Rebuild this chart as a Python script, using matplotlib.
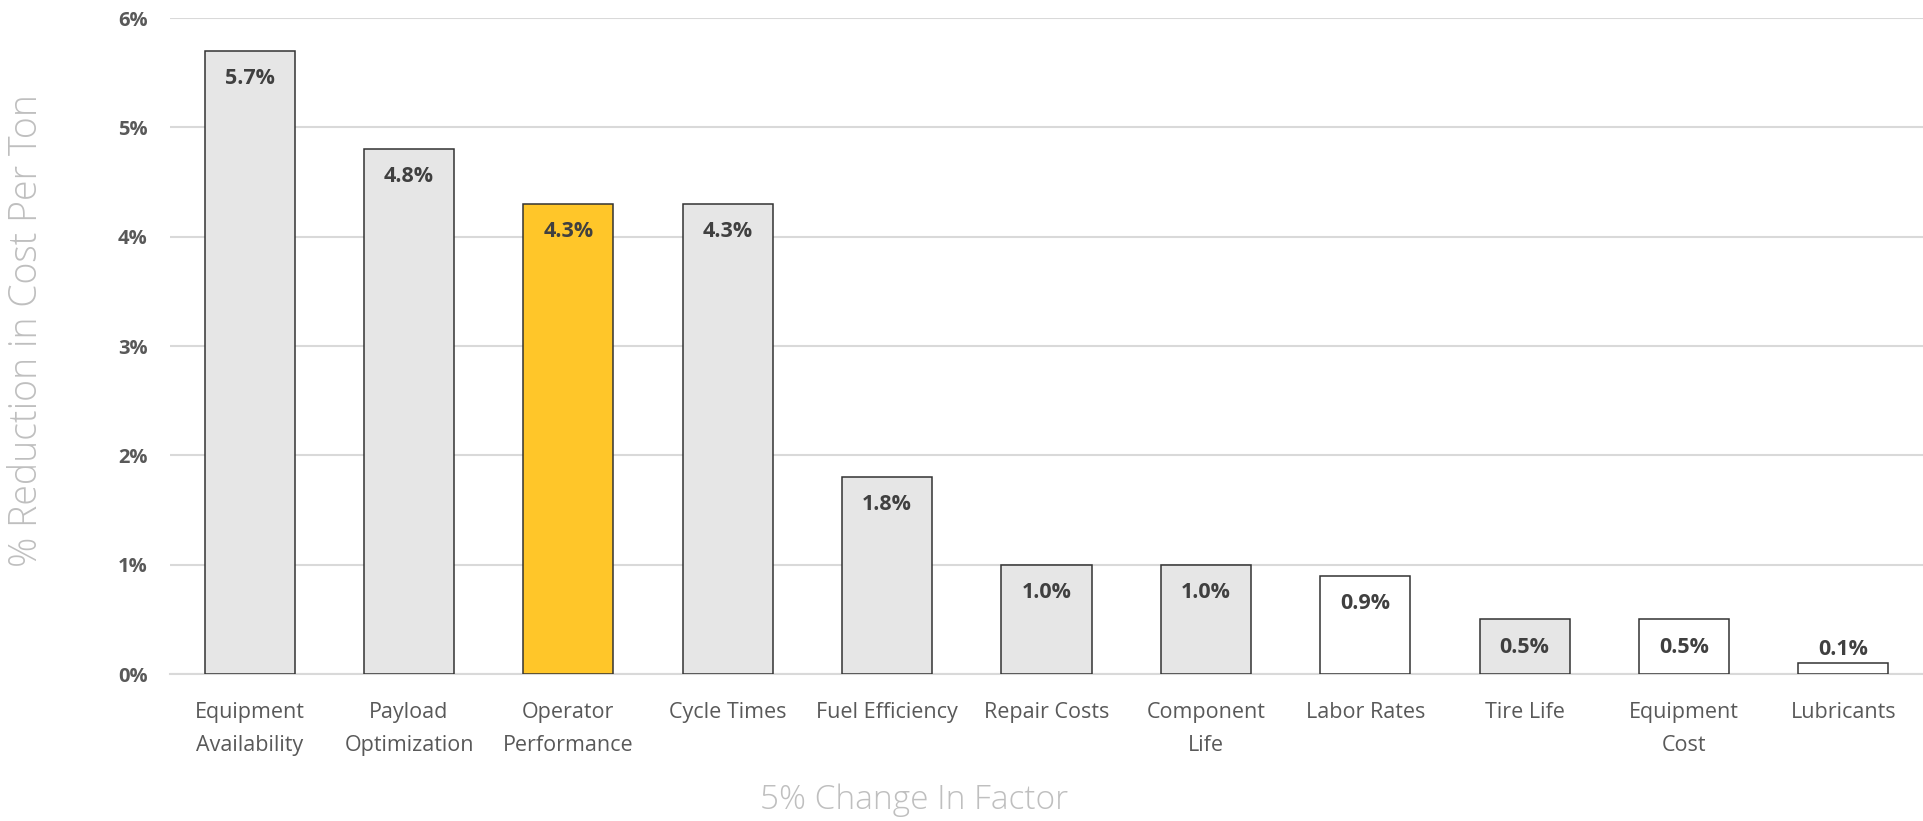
import matplotlib
matplotlib.use('Agg')
import matplotlib.pyplot as plt
from matplotlib.ticker import FuncFormatter

plt.rcParams['font.family'] = ['Open Sans', 'DejaVu Sans']

# data
factors = ['Equipment\nAvailability', 'Payload\nOptimization', 'Operator\nPerformance',
           'Cycle Times', 'Fuel Efficiency', 'Repair Costs', 'Component\nLife',
           'Labor Rates', 'Tire Life', 'Equipment\nCost', 'Lubricants']
reduction = [5.7, 4.8, 4.3, 4.3, 1.8, 1.0, 1.0, 0.9, 0.5, 0.5, 0.1]
fill_colors = ['#E6E6E6', '#E6E6E6', '#FFC629', '#E6E6E6', '#E6E6E6', '#E6E6E6',
               '#E6E6E6', '#FFFFFF', '#E6E6E6', '#FFFFFF', '#FFFFFF']
y_ticks = [0, 1, 2, 3, 4, 5, 6]

fig = plt.figure(figsize=(19.23, 8.21), dpi=100)
ax = fig.add_axes([170/1923, (821-674)/821, 1 - 170/1923, (674-18)/821])

x = range(len(factors))
bars = ax.bar(x, reduction, width=0.565, color=fill_colors,
              edgecolor='#333333', linewidth=1.1, zorder=3)

# value labels, inside the top of each bar (above it when the bar is too short)
for i, v in enumerate(reduction):
    if v < 0.3:
        off = 10
    else:
        off = -20
    ax.annotate('%.1f%%' % v, (i, v), xytext=(0, off), textcoords='offset points',
                ha='center', va='center', fontsize=15.5, fontweight='bold',
                color='#404040', zorder=4)

ax.set_xlim(-0.5, len(factors) - 0.5)
ax.set_ylim(0, 6)
ax.set_yticks(y_ticks)
ax.yaxis.set_major_formatter(FuncFormatter(lambda v, p: '%d%%' % v))
ax.set_xticks(list(x))
ax.set_xticklabels(factors, fontsize=15.5, color='#595959', linespacing=1.75)

for lbl in ax.get_yticklabels():
    lbl.set_fontweight('bold')
    lbl.set_fontsize(14.5)
    lbl.set_color('#595959')

ax.tick_params(axis='y', length=0, pad=16)
ax.tick_params(axis='x', length=0, pad=20)
ax.grid(axis='y', color='#D9D9D9', linewidth=1.5, zorder=0)
ax.set_axisbelow(True)
for side in ['top', 'right', 'left']:
    ax.spines[side].set_visible(False)
ax.spines['bottom'].set_color('#D9D9D9')
ax.spines['bottom'].set_linewidth(1.5)
ax.patch.set_alpha(0)

fig.text(27/1923, 1 - 331/821, '% Reduction in Cost Per Ton', rotation=90,
         ha='center', va='center', fontsize=27, fontweight='light', color='#BFBFBF')
fig.text(914/1923, 1 - 800/821, '5% Change In Factor', ha='center', va='center',
         fontsize=24, fontweight='light', color='#BFBFBF')

fig.savefig('out.png', dpi=100, facecolor='white')
